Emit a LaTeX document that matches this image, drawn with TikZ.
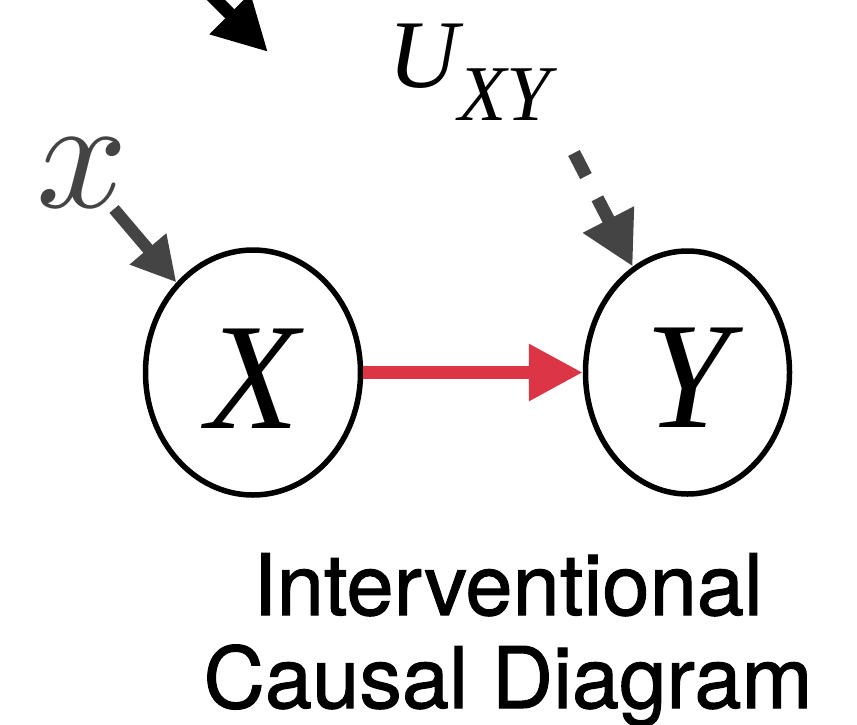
\documentclass[tikz,border=0pt]{standalone}
\usepackage{graphicx}
\usepackage{fontspec}
\setmainfont{Liberation Serif}
\newfontfamily\capfont[FakeBold=1.2]{TeX Gyre Heros}
\usetikzlibrary{arrows.meta,shapes.geometric}
\definecolor{shade}{HTML}{444444}
\definecolor{effect}{HTML}{DC3545}
\tikzset{
  var/.style={draw=black,line width=5.5pt,ellipse,inner sep=0pt,font=\fontsize{152}{152}\selectfont\itshape},
  lbl/.style={inner sep=0pt,font=\itshape},
  captext/.style={inner sep=0pt,font=\fontsize{85}{85}\selectfont\capfont},
  causal/.style={-{Triangle[length=54pt,width=54pt]},line width=12.5pt,draw=effect},
  exog/.style={-{Triangle[length=44pt,width=45pt]},line width=12pt,draw=shade},
  latent/.style={-{Triangle[length=53pt,width=54pt]},line width=13pt,draw=shade,dash pattern=on 26pt off 25pt},
  upper/.style={-{Triangle[length=54pt,width=54pt]},line width=13pt,draw=black},
}

\begin{document}
\begin{tikzpicture}[x=1pt,y=-1pt]
\useasboundingbox (0,0) rectangle (857,724);
\clip (0,0) rectangle (857,724);

% variables
\node[var,minimum width=215pt,minimum height=245pt] (X) at (253,372.5) {\raisebox{-6pt}[\height][0pt]{X}};
\node[var,minimum width=204pt,minimum height=243pt] (Y) at (687.5,372.5) {\raisebox{-5pt}[\height][0pt]{Y}};

% labels
\node[lbl,anchor=base west,text=shade] (xlab) at (36,207) {\scalebox{16}{$x$}};
\node[lbl,anchor=base west] (uxy) at (388,87)
{\fontsize{97}{97}\selectfont U\raisebox{-33pt}{\fontsize{79}{79}\selectfont XY}};

% free ends
\coordinate (xtail) at (114,209);
\coordinate (utail) at (574,153);
\coordinate (ttail) at (150,-66);
\coordinate (thead) at (268,52);

% arrows
\draw[upper] (ttail) -- (thead);
\draw[exog] (xtail) -- (X);
\draw[latent] (utail) -- (Y);
\draw[causal] (X.east) -- (Y.west);

% caption
\node[captext,anchor=base] (cap1) at (508,615) {Interventional};
\node[captext,anchor=base] (cap2) at (508,708) {Causal Diagram};

\end{tikzpicture}
\end{document}
